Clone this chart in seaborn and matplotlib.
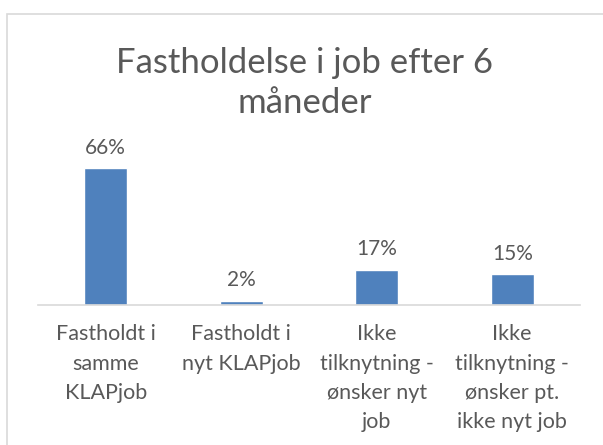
import matplotlib
matplotlib.use('Agg')
import matplotlib.pyplot as plt
import matplotlib.patches as patches
import seaborn as sns
import pandas as pd

categories = ['Fastholdt i\nsamme\nKLAPjob', 'Fastholdt i\nnyt KLAPjob',
              'Ikke\ntilknytning -\nønsker nyt\njob', 'Ikke\ntilknytning -\nønsker pt.\nikke nyt job']
values = [66, 2, 17, 15]
labels = ['66%', '2%', '17%', '15%']

df = pd.DataFrame({'cat': categories, 'val': values})

sns.set_style('white')
plt.rcParams['font.family'] = ['Lato', 'DejaVu Sans']
txt = '#595959'

fig = plt.figure(figsize=(6.03, 4.45), dpi=100)
ax = fig.add_axes([38/603, 1-305/445, 542/603, 145/445])

sns.barplot(data=df, x='cat', y='val', color='#4F81BD', saturation=1, width=0.32, ax=ax)

ax.set_ylim(0, 70)
ax.set_xlim(-0.5, 3.5)
for i, v in enumerate(values):
    ax.text(i, v + 5, labels[i], ha='center', va='bottom', fontsize=15, color=txt)

for s in ['top', 'right', 'left']:
    ax.spines[s].set_visible(False)
ax.spines['bottom'].set_color('#D9D9D9')
ax.spines['bottom'].set_linewidth(1.2)
ax.set_yticks([])
ax.set_xlabel('')
ax.set_ylabel('')
ax.set_xticks([-0.5, 0.5, 1.5, 2.5, 3.5], minor=True)
ax.tick_params(axis='x', which='minor', length=7, color='#D9D9D9', width=1.2)
ax.tick_params(axis='x', which='major', length=0, pad=14, labelsize=15.5, labelcolor=txt)
for t in ax.get_xticklabels():
    t.set_linespacing(1.58)
    t.set_va('top')

fig.text(305/603, 1-83/445, 'Fastholdelse i job efter 6\nmåneder', ha='center', va='center',
         fontsize=25, color=txt, linespacing=1.3)

fig.patches.append(patches.Rectangle((7/603, -0.01), 1.0, 1-14/445+0.01, transform=fig.transFigure,
                                     fill=False, edgecolor='#D9D9D9', linewidth=1.2))

fig.savefig('out.png', dpi=100)
